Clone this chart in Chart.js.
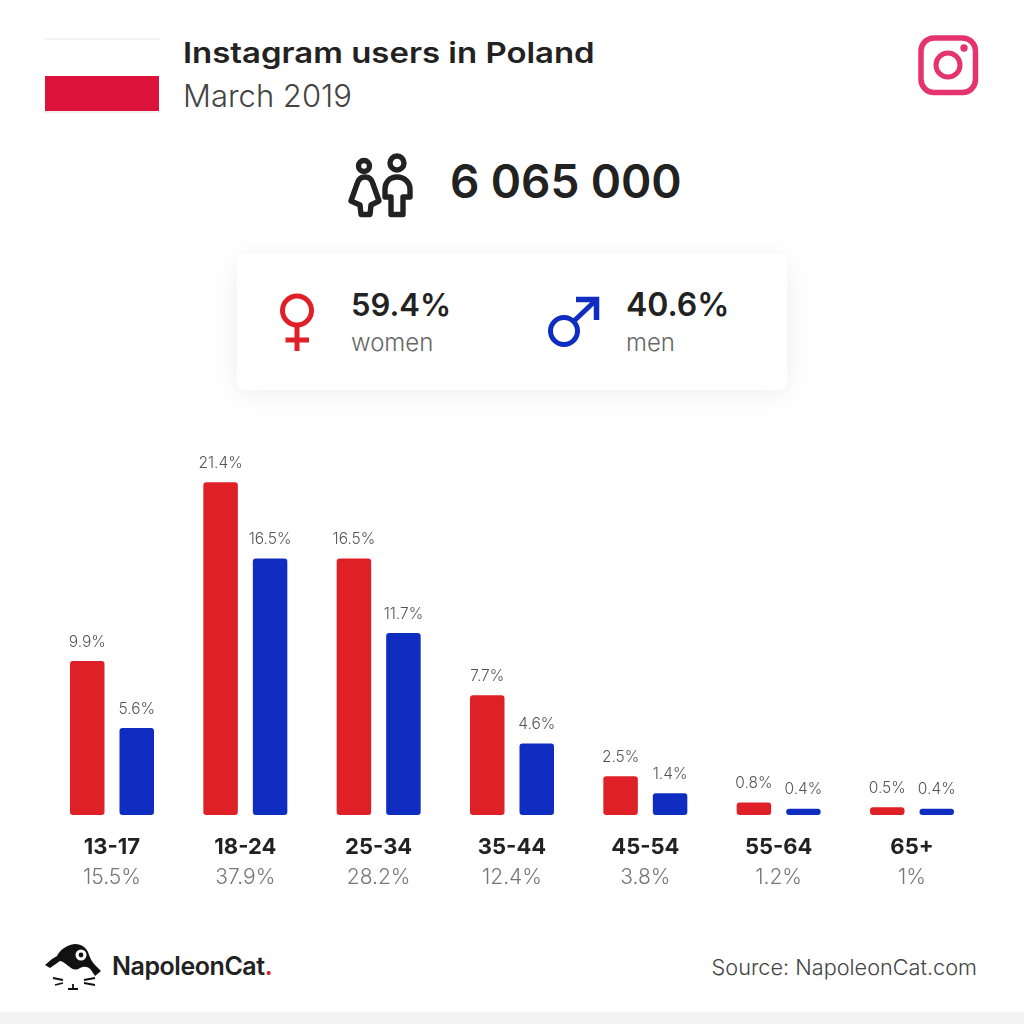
<!DOCTYPE html>
<html>
<head>
<meta charset="utf-8">
<title>Instagram users in Poland</title>
<script src="https://cdn.jsdelivr.net/npm/chart.js@4"></script>
<style>
    html, body { margin: 0; padding: 0; background: #fff; }
    #page { position: relative; width: 1024px; height: 1024px; overflow: hidden; background: #fff; font-family: Inter, sans-serif; color: #222; }
    #page > div, #page > svg { position: absolute; }
    .txt { white-space: nowrap; line-height: 1; transform-origin: left center; }
    #grafico { left: 0; top: 420px; width: 1024px; height: 480px; }
</style>
</head>
<body>
<div id="page">
    <!-- bandeira -->
    <div style="left:45px;top:38px;width:114px;height:2px;background:#f3f3f3"></div>
    <div style="left:45px;top:76px;width:114px;height:35px;background:#dc143c"></div>
    <div style="left:45px;top:111px;width:114px;height:2px;background:#f0f0f0"></div>

    <div class="txt" style="left:183px;top:39px;font-size:28.5px;font-weight:600;transform:scaleX(1.155)">Instagram users in Poland</div>
    <div class="txt" style="left:183px;top:80px;font-size:31px;font-weight:300;color:#444">March 2019</div>

    <!-- instagram -->
    <svg style="left:910px;top:28px" width="76" height="74" viewBox="910 28 76 74" fill="none" stroke="#e4336f">
        <rect x="921" y="38" width="54.5" height="54.5" rx="13" stroke-width="5.5"/>
        <circle cx="948" cy="65" r="12" stroke-width="5"/>
        <circle cx="964" cy="48" r="3.7" fill="#e4336f" stroke="none"/>
    </svg>

    <!-- pessoas -->
    <svg style="left:340px;top:150px" width="85" height="75" viewBox="340 150 85 75" fill="none" stroke="#222" stroke-width="5.4" stroke-linejoin="round">
        <circle cx="364" cy="166" r="5.5"/>
        <path d="M365 177 C360 177 358 180 357 184 L351 201 L360 205 L361 214.5 L370 214.5 L371 205 L379 201 L373 184 C372 180 370 177 365 177 Z"/>
        <circle cx="397" cy="163" r="7"/>
        <path d="M397 177 C389 177 385 183 385 189 L385 197 L391 197 L391 214.5 L403 214.5 L403 197 L410 197 L410 189 C410 183 405 177 397 177 Z"/>
    </svg>
    <div class="txt" style="left:450px;top:158px;font-size:46px;font-weight:600;letter-spacing:-.1px">6 065 000</div>

    <!-- cartao -->
    <div style="left:237px;top:254px;width:550px;height:136px;background:#fff;border-radius:8px;box-shadow:0 4px 28px rgba(0,0,0,.07)"></div>
    <svg style="left:275px;top:290px" width="45" height="65" viewBox="0 0 45 65" fill="none" stroke="#e02027" stroke-width="5">
        <circle cx="22" cy="20.5" r="14.5"/>
        <path d="M22 35 V61 M10.5 50 H34"/>
    </svg>
    <svg style="left:540px;top:288px" width="70" height="68" viewBox="540 288 70 68" fill="none" stroke="#0f2dc0" stroke-width="5">
        <circle cx="564" cy="331" r="13.5"/>
        <path d="M574 321 L595 301"/>
        <path d="M576 299.5 H596.5 V320" stroke-width="5.5"/>
    </svg>
    <div class="txt" style="left:351px;top:289px;font-size:31px;font-weight:600">59.4%</div>
    <div class="txt" style="left:351px;top:331px;font-size:24px;font-weight:300;color:#666">women</div>
    <div class="txt" style="left:626px;top:289px;font-size:32px;font-weight:600">40.6%</div>
    <div class="txt" style="left:626px;top:331px;font-size:24px;font-weight:300;color:#666">men</div>

    <div id="grafico"><canvas id="graficoIdade"></canvas></div>

    <!-- rodape -->
    <svg style="left:40px;top:938px" width="70" height="58" viewBox="40 938 70 58">
        <path d="M45 965 L52 959 L57 956 C60 950 66 945 75 944 C82 944 86 948 88 952 C90 958 92 962 95 965 L101 971 L95 976 L91 970 C88 966 84 966 80 968 C77 970 74 970 71 968 C67 965 63 961 60 961 L50 968 Z" fill="#111"/>
        <circle cx="81" cy="955" r="5.5" fill="#fff"/><circle cx="81" cy="955" r="2.4" fill="#111"/>
        <path d="M53 978 L63 980 M55 985 L63 983 M68 989 L78 989 M73 984 V989 M84 980 L95 978 M84 983 L95 985" stroke="#111" stroke-width="1.8" fill="none"/>
    </svg>
    <div class="txt" style="left:112px;top:954px;font-size:25px;font-weight:600;letter-spacing:-.45px">NapoleonCat<span style="color:#e02027">.</span></div>
    <div class="txt" style="right:47px;top:957px;font-size:21.7px;font-weight:300;color:#444">Source: NapoleonCat.com</div>
    <div style="left:0;top:1012px;width:1024px;height:12px;background:#f4f4f4"></div>
</div>

<script>
// dados
const faixasEtarias = ['13-17', '18-24', '25-34', '35-44', '45-54', '55-64', '65+'];
const totaisFaixa = ['15.5%', '37.9%', '28.2%', '12.4%', '3.8%', '1.2%', '1%'];
const mulheres = [9.9, 21.4, 16.5, 7.7, 2.5, 0.8, 0.5];
const homens = [5.6, 16.5, 11.7, 4.6, 1.4, 0.4, 0.4];

// escreve o valor em cima de cada barra
const rotulosBarras = {
    id: 'rotulosBarras',
    afterDatasetsDraw(chart) {
        const ctx = chart.ctx;
        ctx.save();
        ctx.font = '300 15.5px Inter';
        ctx.fillStyle = '#555';
        ctx.textAlign = 'center';
        ctx.textBaseline = 'middle';
        chart.data.datasets.forEach((ds, i) => {
            chart.getDatasetMeta(i).data.forEach((barra, j) => {
                ctx.fillText(ds.data[j] + '%', barra.x, barra.y - 19);
            });
        });
        ctx.restore();
    }
};

document.addEventListener("DOMContentLoaded", () => {
    const ctxIdade = document.getElementById('graficoIdade').getContext('2d');
    new Chart(ctxIdade, {
        type: 'bar',
        data: {
            labels: faixasEtarias,
            datasets: [
                { label: 'women', data: mulheres, backgroundColor: '#e02027' },
                { label: 'men', data: homens, backgroundColor: '#0f2dc0' }
            ]
        },
        options: {
            responsive: true,
            maintainAspectRatio: false,
            animation: false,
            categoryPercentage: 0.7425,
            barPercentage: 0.697,
            borderRadius: 3,
            borderSkipped: false,
            layout: { padding: { left: 45.33, right: 45.33, top: 6.25, bottom: 11 } },
            plugins: { legend: { display: false }, tooltip: { enabled: false } },
            scales: {
                y: { display: false, min: 0, max: 25 },
                x: {
                    afterFit: (eixo) => { eixo.height = 43; },
                    grid: { display: false, drawTicks: false },
                    border: { display: false },
                    ticks: {
                        padding: 19,
                        autoSkip: false,
                        maxRotation: 0,
                        color: '#222',
                        font: { family: 'Inter', size: 22, weight: '700' }
                    }
                },
                // segunda linha de rotulos: total de cada faixa
                x2: {
                    type: 'category',
                    labels: totaisFaixa,
                    position: 'bottom',
                    offset: true,
                    afterFit: (eixo) => { eixo.height = 31; },
                    grid: { display: false, drawTicks: false },
                    border: { display: false },
                    ticks: {
                        padding: 7,
                        autoSkip: false,
                        maxRotation: 0,
                        color: '#777',
                        font: { family: 'Inter', size: 21, weight: '300' }
                    }
                }
            }
        },
        plugins: [rotulosBarras]
    });
});
</script>
</body>
</html>
